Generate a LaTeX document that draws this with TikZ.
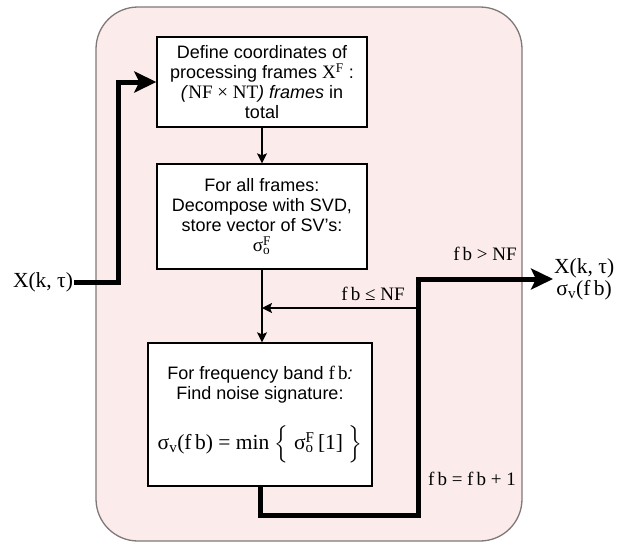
\documentclass[tikz,border=0pt]{standalone}
\usepackage{amsmath}
\usepackage{fontspec}
\setmainfont{Liberation Sans}
\newfontfamily\serif{Liberation Serif}
\usetikzlibrary{arrows.meta}

\definecolor{panelfill}{RGB}{251,236,235}
\definecolor{panelline}{RGB}{128,120,120}

% serif maths-like text
\newcommand\tm[1]{{\serif\fontsize{19}{20}\selectfont #1}}
% superscript and subscript stacked on one symbol
\newcommand\supsub[2]{\makebox[0pt][l]{\textsubscript{#2}}\textsuperscript{#1}}

\tikzset{
  panel/.style={draw=panelline, line width=1.3pt, fill=panelfill, rounded corners=42pt},
  stepbox/.style={draw=black, line width=1.3pt, fill=white, align=center,
    inner sep=4pt, font=\fontsize{18}{20}\selectfont},
  flow/.style={draw=black, line width=1.5pt, -{Stealth[length=10pt,width=10pt,inset=2pt]}},
  bigflow/.style={draw=black, line width=5pt, -{Stealth[length=22pt,width=21pt,inset=5pt]}},
  sig/.style={font=\serif\fontsize{21.5}{22}\selectfont, align=center, inner sep=1pt},
  cond/.style={font=\serif\fontsize{19}{20}\selectfont, inner sep=1pt},
}

\begin{document}
\begin{tikzpicture}[x=1pt,y=-1pt]
\useasboundingbox (0,0) rectangle (621,544);

% enclosing block
\node[panel, minimum width=426pt, minimum height=534pt] (frame) at (309,274) {};

% processing steps
\node[stepbox, minimum width=210pt, minimum height=90pt] (define) at (262,82)
  {Define coordinates of\\
   processing frames \tm{X\textsuperscript{F}} :\\
   \textit{(}\tm{NF × NT}\textit{) frames} in\\
   total};
\node[stepbox, minimum width=210pt, minimum height=105pt] (svd) at (262,216.5)
  {For all frames:\\
   Decompose with SVD,\\
   store vector of SV's:\\
   \tm{σ\supsub{F}{o}}};
\node[stepbox, minimum width=224pt, minimum height=143pt] (band) at (260,414.5)
  {For frequency band \tm{f\,b}\textit{:}\\
   Find noise signature:\\[22pt]
   {\serif\fontsize{21.5}{22}\selectfont σ\textsubscript{v}(f\,b) = min $\Big\{$ σ\supsub{F}{o}\,[1] $\Big\}$}};

% input and output signals
\node[sig] (input) at (43,282) {X(k, τ)};
\node[sig, anchor=west] (output) at (553,279) {X(k, τ)\\σ\textsubscript{v}(f\,b)};

% bend points of the loop
\coordinate (inbend) at (118,282);
\coordinate (loopturn) at (418,515);
\coordinate (fbk) at (418,308);

% connectors
\draw[bigflow] (input.east) -- (inbend) |- (define.west);
\draw[flow] (define.south) -- (svd.north);
\draw[flow] (svd.south) -- (svd.south |- band.north);
\draw[flow] (fbk) -- (svd.south |- fbk);
\draw[bigflow] (band.south) |- (loopturn) |- (output.west);

% branch conditions
\node[cond] (gt) at (485,254) {f\,b > NF};
\node[cond] (le) at (373,294) {f\,b ≤ NF};
\node[cond] (inc) at (472,479) {f\,b = f\,b + 1};
\end{tikzpicture}
\end{document}
